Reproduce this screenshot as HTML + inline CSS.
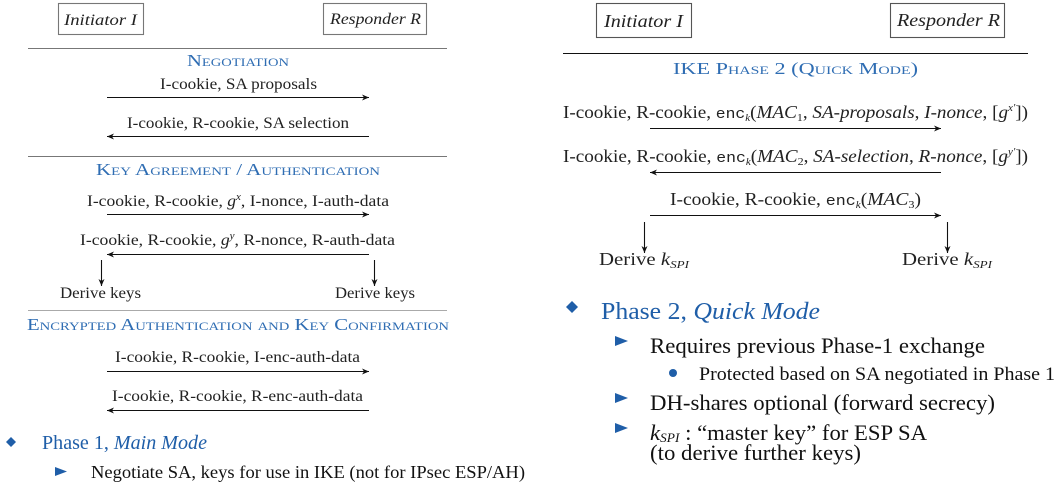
<!DOCTYPE html>
<html><head><meta charset="utf-8"><style>
html,body{margin:0;padding:0;background:#fff;width:1063px;height:486px;overflow:hidden}
svg{display:block}
.s{font-family:"Liberation Serif",serif;font-size:16px;fill:#222}
.r{font-family:"Liberation Serif",serif;font-size:17.5px;fill:#222}
.h{font-family:"Liberation Serif",serif;font-size:17px;fill:#2f6db3;font-variant:small-caps}
.b{font-family:"Liberation Serif",serif;fill:#111}
.m{font-family:"Liberation Mono",monospace}
</style></head><body>
<svg width="1063" height="486" viewBox="0 0 1063 486" xmlns="http://www.w3.org/2000/svg">
<defs>
<marker id="a" markerWidth="8" markerHeight="6" refX="7" refY="3" orient="auto" markerUnits="userSpaceOnUse"><path d="M0,0 L7,3 L0,6 L2,3z" fill="#111"/></marker>
</defs>
<g stroke="#111" stroke-width="1.1" fill="none">
<rect x="58.5" y="3.5" width="85" height="31" stroke="#777"/>
<rect x="323.5" y="3.5" width="103" height="31" stroke="#777"/>
<line x1="28" y1="48.5" x2="447" y2="48.5" stroke="#777"/>
<line x1="107" y1="97.5" x2="369" y2="97.5" marker-end="url(#a)"/>
<line x1="369" y1="136.5" x2="107" y2="136.5" marker-end="url(#a)"/>
<line x1="28" y1="156.5" x2="447" y2="156.5" stroke="#777"/>
<line x1="107" y1="214.5" x2="369" y2="214.5" marker-end="url(#a)"/>
<line x1="369" y1="254.5" x2="107" y2="254.5" marker-end="url(#a)"/>
<line x1="101.5" y1="260" x2="101.5" y2="286" marker-end="url(#a)"/>
<line x1="374.5" y1="260" x2="374.5" y2="286" marker-end="url(#a)"/>
<line x1="28" y1="310.5" x2="447" y2="310.5" stroke="#aaa"/>
<line x1="107" y1="371.5" x2="369" y2="371.5" marker-end="url(#a)"/>
<line x1="369" y1="410.5" x2="107" y2="410.5" marker-end="url(#a)"/>
<rect x="596.5" y="3.5" width="95" height="34" stroke="#555"/>
<rect x="890.5" y="3.5" width="114" height="34" stroke="#555"/>
<line x1="563" y1="53.5" x2="1028" y2="53.5"/>
<line x1="650" y1="128.5" x2="941" y2="128.5" marker-end="url(#a)"/>
<line x1="941" y1="172.5" x2="650" y2="172.5" marker-end="url(#a)"/>
<line x1="650" y1="215.5" x2="941" y2="215.5" marker-end="url(#a)"/>
<line x1="644.5" y1="222" x2="644.5" y2="253" marker-end="url(#a)"/>
<line x1="947.5" y1="222" x2="947.5" y2="253" marker-end="url(#a)"/>
</g>
<text class="s" x="64" y="25" font-style="italic" textLength="73" lengthAdjust="spacingAndGlyphs">Initiator I</text>
<text class="s" x="330" y="24" font-style="italic" textLength="91" lengthAdjust="spacingAndGlyphs">Responder R</text>
<text class="h" x="187" y="66" textLength="102" lengthAdjust="spacingAndGlyphs">Negotiation</text>
<text class="s" x="160" y="89" textLength="157" lengthAdjust="spacingAndGlyphs">I-cookie, SA proposals</text>
<text class="s" x="127" y="128" textLength="222" lengthAdjust="spacingAndGlyphs">I-cookie, R-cookie, SA selection</text>
<text class="h" x="96" y="175" textLength="284" lengthAdjust="spacingAndGlyphs">Key Agreement / Authentication</text>
<text class="s" x="87" y="206" textLength="302" lengthAdjust="spacingAndGlyphs">I-cookie, R-cookie, <tspan font-style="italic">g</tspan><tspan font-size="10" dy="-6" font-style="italic">x</tspan><tspan dy="6">, I-nonce, I-auth-data</tspan></text>
<text class="s" x="80" y="245" textLength="315" lengthAdjust="spacingAndGlyphs">I-cookie, R-cookie, <tspan font-style="italic">g</tspan><tspan font-size="10" dy="-6" font-style="italic">y</tspan><tspan dy="6">, R-nonce, R-auth-data</tspan></text>
<text class="s" x="60" y="298" textLength="81" lengthAdjust="spacingAndGlyphs">Derive keys</text>
<text class="s" x="335" y="298" textLength="80" lengthAdjust="spacingAndGlyphs">Derive keys</text>
<text class="h" x="27" y="330" textLength="422" lengthAdjust="spacingAndGlyphs">Encrypted Authentication and Key Confirmation</text>
<text class="s" x="115" y="362" textLength="245" lengthAdjust="spacingAndGlyphs">I-cookie, R-cookie, I-enc-auth-data</text>
<text class="s" x="112" y="401" textLength="251" lengthAdjust="spacingAndGlyphs">I-cookie, R-cookie, R-enc-auth-data</text>
<path d="M11,437 L16,442 L11,447 L6,442z" fill="#1f5ea8"/>
<text class="b" x="42" y="449" font-size="20" style="fill:#1f5ea8" textLength="165" lengthAdjust="spacingAndGlyphs">Phase 1, <tspan font-style="italic">Main Mode</tspan></text>
<path d="M55,467 L67,471.5 L55,476z" fill="#1f5ea8"/>
<text class="b" x="91" y="478" font-size="18" textLength="434" lengthAdjust="spacingAndGlyphs">Negotiate SA, keys for use in IKE (not for IPsec ESP/AH)</text>
<text class="r" x="604" y="27" font-style="italic" textLength="79" lengthAdjust="spacingAndGlyphs">Initiator I</text>
<text class="r" x="897" y="26" font-style="italic" textLength="103" lengthAdjust="spacingAndGlyphs">Responder R</text>
<text class="h" x="673" y="74" font-size="19" textLength="245" lengthAdjust="spacingAndGlyphs">IKE Phase 2 (Quick Mode)</text>
<text class="r" x="563" y="118" textLength="465" lengthAdjust="spacingAndGlyphs">I-cookie, R-cookie, <tspan class="m" font-size="15">enc</tspan><tspan font-size="10" dy="3" font-style="italic">k</tspan><tspan dy="-3">(</tspan><tspan font-style="italic">MAC</tspan><tspan font-size="11" dy="3">1</tspan><tspan dy="-3">, </tspan><tspan font-style="italic">SA-proposals</tspan>, <tspan font-style="italic">I-nonce</tspan>, [<tspan font-style="italic">g</tspan><tspan font-size="10" dy="-7" font-style="italic">x′</tspan><tspan dy="7">])</tspan></text>
<text class="r" x="563" y="162" textLength="465" lengthAdjust="spacingAndGlyphs">I-cookie, R-cookie, <tspan class="m" font-size="15">enc</tspan><tspan font-size="10" dy="3" font-style="italic">k</tspan><tspan dy="-3">(</tspan><tspan font-style="italic">MAC</tspan><tspan font-size="11" dy="3">2</tspan><tspan dy="-3">, </tspan><tspan font-style="italic">SA-selection</tspan>, <tspan font-style="italic">R-nonce</tspan>, [<tspan font-style="italic">g</tspan><tspan font-size="10" dy="-7" font-style="italic">y′</tspan><tspan dy="7">])</tspan></text>
<text class="r" x="670" y="205" textLength="251" lengthAdjust="spacingAndGlyphs">I-cookie, R-cookie, <tspan class="m" font-size="15">enc</tspan><tspan font-size="10" dy="3" font-style="italic">k</tspan><tspan dy="-3">(</tspan><tspan font-style="italic">MAC</tspan><tspan font-size="11" dy="3">3</tspan><tspan dy="-3">)</tspan></text>
<text class="r" x="599" y="265" textLength="90" lengthAdjust="spacingAndGlyphs">Derive <tspan font-style="italic">k</tspan><tspan font-size="11" dy="3" font-style="italic">SPI</tspan></text>
<text class="r" x="902" y="265" textLength="90" lengthAdjust="spacingAndGlyphs">Derive <tspan font-style="italic">k</tspan><tspan font-size="11" dy="3" font-style="italic">SPI</tspan></text>
<path d="M572,301 L578,307 L572,313 L566,307z" fill="#1f5ea8"/>
<text class="b" x="601" y="319" font-size="24" style="fill:#1f5ea8" textLength="219" lengthAdjust="spacingAndGlyphs">Phase 2, <tspan font-style="italic">Quick Mode</tspan></text>
<path d="M615,336 L628,341 L615,346z" fill="#1f5ea8"/>
<text class="b" x="650" y="353" font-size="22" textLength="335" lengthAdjust="spacingAndGlyphs">Requires previous Phase-1 exchange</text>
<circle cx="673" cy="373" r="4" fill="#1f5ea8"/>
<text class="b" x="699" y="380" font-size="19" textLength="356" lengthAdjust="spacingAndGlyphs">Protected based on SA negotiated in Phase 1</text>
<path d="M615,393 L628,398 L615,403z" fill="#1f5ea8"/>
<text class="b" x="650" y="410" font-size="22" textLength="345" lengthAdjust="spacingAndGlyphs">DH-shares optional (forward secrecy)</text>
<path d="M615,423 L628,428 L615,433z" fill="#1f5ea8"/>
<text class="b" x="650" y="440" font-size="22" textLength="277" lengthAdjust="spacingAndGlyphs"><tspan font-style="italic">k</tspan><tspan font-size="13" font-style="italic" dy="2">SPI</tspan><tspan dy="-2"> : “master key” for ESP SA</tspan></text>
<text class="b" x="650" y="460" font-size="22" textLength="211" lengthAdjust="spacingAndGlyphs">(to derive further keys)</text>
</svg>
</body></html>
